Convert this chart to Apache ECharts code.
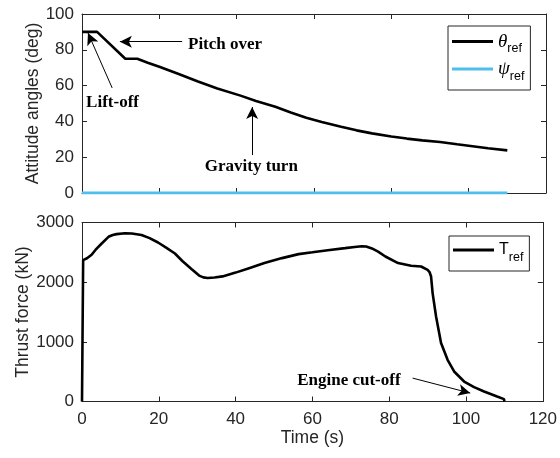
<!DOCTYPE html>
<html>
<head>
<meta charset="utf-8">
<script src="https://cdn.jsdelivr.net/npm/echarts@6/dist/echarts.min.js"></script>
<style>
  html, body { margin: 0; padding: 0; background: #fff; }
  #chart { width: 560px; height: 458px; }
</style>
</head>
<body>
<div id="chart"></div>
<script>
// Reference attitude angles (deg) vs time (s)
const thetaTime = [0, 3.9, 11.2, 14.3, 17, 20, 25, 30, 35, 41, 45, 50, 54, 58, 62, 67, 71, 75, 80, 84, 88, 92.6, 97, 101, 105, 110];
const thetaRef  = [90, 90, 75, 75, 72.8, 70.5, 66.5, 62.3, 58.4, 54.4, 51.4, 48.2, 45, 42, 39.7, 37, 35, 33.3, 31.6, 30.4, 29.4, 28.5, 27.2, 26.1, 25, 23.8];
const psiTime = [0, 110];
const psiRef  = [0, 0];

// Reference thrust (kN) vs time (s)
const thrustTime = [0, 0.3, 1.3, 2.5, 3.5, 5, 6.9, 8, 9, 11.2, 13, 15.5, 17.6, 19.8, 21.9, 24.2, 26.2, 28.5, 30.5, 31.6, 32.7, 34.5, 36.6, 40, 43.5,
                    47.5, 52.1, 56.4, 60, 64, 68.5, 71, 72.8, 74, 75.5, 77.1, 79, 82.3, 85.7, 88.3, 90, 90.5, 90.9, 91.3, 92.2, 93.5, 95.2, 96.9,
                    99.5, 102.1, 104.7, 108.1, 109.9, 110];
const thrustRef  = [0, 2370, 2400, 2460, 2540, 2640, 2760, 2790, 2805, 2820, 2815, 2790, 2738, 2665, 2580, 2480, 2350, 2220, 2110, 2080, 2070, 2077, 2097, 2160, 2235,
                    2320, 2403, 2470, 2500, 2535, 2570, 2590, 2603, 2598, 2565, 2513, 2430, 2320, 2275, 2263, 2207, 2170, 2095, 1817, 1425, 979, 699, 503,
                    335, 241, 168, 84, 40, 0];

// Axis ticks
const timeTicks = { min: 0, max: 120, interval: 20 };
const angleTicks = { min: 0, max: 100, interval: 20 };
const thrustTicks = { min: 0, max: 3000, interval: 1000 };

// Annotations: [label, labelX, labelY, arrowFromX, arrowFromY, arrowToX, arrowToY]
const angleNotes = [
  ['Pitch over',   37.0, 83.0, 25.9, 84.5, 9.8, 84.5],
  ['Lift-off',      7.9, 50.3,  7.8, 58.7, 1.55, 89.4],
  ['Gravity turn', 43.8, 14.5, 44.0, 21.2, 44.0, 48.0]
];
const thrustNotes = [
  ['Engine cut-off', 69.5, 347, 86.1, 392, 101.1, 141]
];

const pairs = (xs, ys) => xs.map((x, i) => [x, ys[i]]);
const ink = '#262626';
const sans = 'Liberation Sans, Arial, sans-serif';
const serif = 'Liberation Serif, Times New Roman, serif';

// Bold text labels plus thin arrows, both placed in data coordinates
function noteMarks(notes) {
  return {
    markPoint: {
      silent: true,
      symbol: 'rect',
      symbolSize: 1,
      itemStyle: { color: 'rgba(0,0,0,0)' },
      data: notes.map(n => ({
        coord: [n[1], n[2]],
        label: { show: true, position: 'inside', formatter: n[0],
                 fontFamily: serif, fontWeight: 'bold', fontSize: 17, color: '#000' }
      }))
    },
    markLine: {
      silent: true,
      symbol: ['none', 'arrow'],
      symbolSize: [9, 12],
      label: { show: false },
      lineStyle: { color: '#000', width: 1, type: 'solid' },
      emphasis: { disabled: true },
      data: notes.map(n => [{ coord: [n[3], n[4]] }, { coord: [n[5], n[6]] }])
    }
  };
}

function xAxisFor(grid, pos, labels) {
  return Object.assign({
    type: 'value', gridIndex: grid, position: pos,
    axisLine: { show: true, onZero: false, lineStyle: { color: ink, width: 1 } },
    axisTick: { show: true, inside: true, length: 5, lineStyle: { color: ink } },
    axisLabel: { show: labels, color: ink, fontFamily: sans, fontSize: 17, margin: 9 },
    splitLine: { show: false }
  }, timeTicks);
}
function yAxisFor(grid, pos, ticks, labels, name, gap) {
  return Object.assign({
    type: 'value', gridIndex: grid, position: pos,
    axisLine: { show: true, onZero: false, lineStyle: { color: ink, width: 1 } },
    axisTick: { show: true, inside: true, length: 5, lineStyle: { color: ink } },
    axisLabel: { show: labels, color: ink, fontFamily: sans, fontSize: 17, margin: 8,
                 formatter: v => String(v) },
    splitLine: { show: false },
    name: name || '', nameLocation: 'middle', nameGap: gap || 0, nameMoveOverlap: false,
    nameTextStyle: { color: ink, fontFamily: sans, fontSize: 17.5 }
  }, ticks);
}

const legendRich = {
  g: { fontFamily: serif, fontStyle: 'italic', fontSize: 19, color: '#000', lineHeight: 28 },
  t: { fontFamily: sans, fontSize: 16, color: '#000', lineHeight: 28 },
  s: { fontFamily: sans, fontSize: 12.5, color: '#000', lineHeight: 8, verticalAlign: 'bottom' }
};
const legendText = {
  'theta_ref': '{g|θ}{s|ref}',
  'psi_ref': '{g|ψ}{s|ref}',
  'T_ref': '{t|T}{s|ref}'
};

const chart = echarts.init(document.getElementById('chart'), null, { renderer: 'canvas' });
chart.setOption({
  animation: false,
  backgroundColor: '#fff',
  grid: [
    { left: 82, right: 14, top: 14, height: 179 },
    { left: 82, right: 14, top: 222.5, height: 179 }
  ],
  xAxis: [
    xAxisFor(0, 'bottom', false),
    xAxisFor(0, 'top', false),
    Object.assign(xAxisFor(1, 'bottom', true), {
      name: 'Time (s)', nameLocation: 'middle', nameGap: 28,
      nameTextStyle: { color: ink, fontFamily: sans, fontSize: 17.5 }
    }),
    xAxisFor(1, 'top', false)
  ],
  yAxis: [
    yAxisFor(0, 'left', angleTicks, true, 'Attitude angles (deg)', 40),
    yAxisFor(0, 'right', angleTicks, false),
    yAxisFor(1, 'left', thrustTicks, true, 'Thrust force (kN)', 50),
    yAxisFor(1, 'right', thrustTicks, false)
  ],
  legend: [
    {
      data: ['theta_ref', 'psi_ref'], orient: 'vertical', left: 448, top: 26,
      padding: [6, 6, 7, 4], itemGap: 4, itemWidth: 41, itemHeight: 3, icon: 'rect',
      borderColor: ink, borderWidth: 1, backgroundColor: '#fff',
      formatter: n => legendText[n], textStyle: { rich: legendRich }, selectedMode: false
    },
    {
      data: ['T_ref'], orient: 'vertical', left: 449, top: 236,
      padding: [6, 6, 7, 4], itemWidth: 41, itemHeight: 3, icon: 'rect',
      borderColor: ink, borderWidth: 1, backgroundColor: '#fff',
      formatter: n => legendText[n], textStyle: { rich: legendRich }, selectedMode: false
    }
  ],
  series: [
    Object.assign({
      name: 'theta_ref', type: 'line', xAxisIndex: 0, yAxisIndex: 0,
      data: pairs(thetaTime, thetaRef), showSymbol: false, symbol: 'none',
      lineStyle: { color: '#000', width: 2.6 }, itemStyle: { color: '#000' }, z: 3
    }, noteMarks(angleNotes)),
    {
      name: 'psi_ref', type: 'line', xAxisIndex: 0, yAxisIndex: 0,
      data: pairs(psiTime, psiRef), showSymbol: false, symbol: 'none',
      lineStyle: { color: '#4DBEEE', width: 3 }, itemStyle: { color: '#4DBEEE' }, z: 3
    },
    Object.assign({
      name: 'T_ref', type: 'line', xAxisIndex: 2, yAxisIndex: 2,
      data: pairs(thrustTime, thrustRef), showSymbol: false, symbol: 'none',
      lineStyle: { color: '#000', width: 2.6 }, itemStyle: { color: '#000' }, z: 3
    }, noteMarks(thrustNotes))
  ]
});
</script>
</body>
</html>
